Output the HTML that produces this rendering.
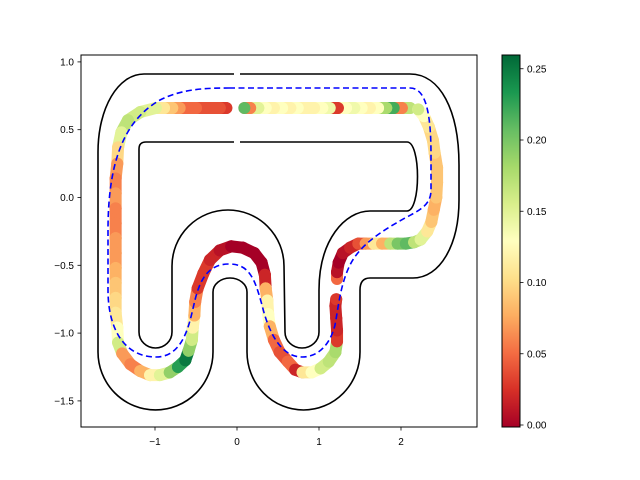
<!DOCTYPE html>
<html><head><meta charset="utf-8"><style>
body{margin:0;background:#fff}
svg{display:block;font-family:"Liberation Sans","DejaVu Sans",sans-serif}
</style></head><body>
<svg id="chart" width="640" height="480" viewBox="0 0 640 480">
<defs>
<linearGradient id="cmap" x1="0" y1="1" x2="0" y2="0">
<stop offset="0" stop-color="#a50026"/><stop offset="0.1" stop-color="#d73027"/><stop offset="0.2" stop-color="#f46d43"/><stop offset="0.3" stop-color="#fdae61"/><stop offset="0.4" stop-color="#fee08b"/><stop offset="0.5" stop-color="#ffffbf"/><stop offset="0.6" stop-color="#d9ef8b"/><stop offset="0.7" stop-color="#a6d96a"/><stop offset="0.8" stop-color="#66bd63"/><stop offset="0.9" stop-color="#1a9850"/><stop offset="1" stop-color="#006837"/>
</linearGradient>
<clipPath id="plotclip"><rect x="81" y="55" width="396" height="372"/></clipPath>
</defs>
<rect x="0" y="0" width="640" height="480" fill="#fff"/>
<g clip-path="url(#plotclip)">
<path fill="none" stroke="#000" stroke-width="1.6" d="M240,74 L410,74 C440,74 459,110 459,165 L459,200 C459,245 440,278 413,278 L370,278 Q360,278 360,290 L360,352 A56.5,58 0 0 1 247,352 L247,292 A17,14 0 0 0 213,292 L213,352 A57.5,58 0 0 1 98,352 L98,152 C98,108 118,74 144,74 L234,74"/>
<path fill="none" stroke="#000" stroke-width="1.6" d="M234,142 L146,142 Q139,142 139,149 L139,332 A16.5,16 0 0 0 172,332 L172,266 A56,56 0 0 1 284,266 L285,332 A17,16 0 0 0 319,332 L319,290 C319,240 345,211 370,211 L407,211 C421,211 421,142 407,142 L240,142"/>
<g id="points"></g>
<path fill="none" stroke="#0000ff" stroke-width="1.6" stroke-dasharray="6,3.5" d="M229,88 L410,88 C425,88 431,110 431,155 L431,190 C431,205 420,210 405,218 C380,232 360,245 350,265 C340,285 338,310 335,325 C330,345 318,357 302,357 C280,357 268,330 262,305 C255,280 250,264 229,264 C208,264 200,280 195,300 C190,320 185,357 156,357 C125,357 108,330 108,290 L108,230 C108,160 125,120 160,100 C180,90 200,88 229,88 Z"/>
</g>
<rect x="81" y="55" width="396" height="372" fill="none" stroke="#000" stroke-width="1"/>
<g id="axes"></g>
<rect x="502" y="55" width="18" height="372" fill="url(#cmap)"/>
<rect x="502" y="55" width="18" height="372" fill="none" stroke="#000" stroke-width="1"/>
<g id="cbaxis"></g>
</svg>
<script>
const xTicks = [-1, 0, 1, 2];
const yTicks = [1.0, 0.5, 0.0, -0.5, -1.0, -1.5];
const yTickLabels = ["1.0", "0.5", "0.0", "\u22120.5", "\u22121.0", "\u22121.5"];
const xTickLabels = ["\u22121", "0", "1", "2"];
const cbTicks = [0, 0.05, 0.10, 0.15, 0.20, 0.25];
const cbTickLabels = ["0.00", "0.05", "0.10", "0.15", "0.20", "0.25"];
const vMin = 0, vMax = 0.26;
const ptX = [2.11,2.01,1.91,1.82,1.72,1.62,1.52,1.43,1.33,1.23,1.13,1.04,0.94,0.84,0.74,0.65,0.55,0.45,0.35,0.26,0.16,0.09,
-0.13,-0.21,-0.30,-0.40,-0.50,-0.60,-0.70,-0.79,-0.89,-0.99,
-1.18,-1.33,-1.41,-1.45,-1.46,-1.48,-1.48,-1.48,-1.48,-1.48,-1.48,-1.48,-1.48,-1.48,-1.48,
-1.46,-1.45,-1.40,-1.30,-1.18,-1.06,-0.94,-0.82,-0.72,-0.63,-0.59,-0.55,-0.54,-0.52,-0.51,-0.48,-0.41,-0.33,-0.21,-0.07,0.07,0.21,0.30,0.34,0.35,0.37,0.38,0.40,0.45,0.52,0.62,0.71,0.80,0.91,1.02,1.12,1.20,1.22,1.22,1.21,1.20,1.21,
1.22,1.22,1.24,1.29,1.38,1.48,1.57,1.67,1.77,1.87,1.96,2.06,2.16,2.24,2.32,2.37,2.40,2.43,2.44,2.44,2.41,2.39,2.34,2.28,2.21];
const ptY = [0.66,0.66,0.66,0.66,0.66,0.66,0.66,0.66,0.66,0.66,0.66,0.66,0.66,0.66,0.66,0.66,0.66,0.66,0.66,0.66,0.66,0.66,
0.66,0.66,0.66,0.66,0.66,0.66,0.66,0.66,0.66,0.66,
0.63,0.57,0.48,0.37,0.25,0.14,0.03,-0.08,-0.19,-0.30,-0.41,-0.52,-0.63,-0.74,-0.85,
-0.96,-1.07,-1.15,-1.23,-1.28,-1.31,-1.31,-1.29,-1.25,-1.20,-1.13,-1.05,-0.96,-0.87,-0.77,-0.67,-0.56,-0.46,-0.39,-0.36,-0.37,-0.41,-0.48,-0.57,-0.67,-0.76,-0.86,-0.95,-1.05,-1.14,-1.21,-1.27,-1.29,-1.29,-1.26,-1.21,-1.14,-1.06,-0.98,-0.89,-0.80,-0.75,
-0.60,-0.55,-0.48,-0.41,-0.37,-0.34,-0.34,-0.34,-0.34,-0.34,-0.34,-0.34,-0.33,-0.31,-0.25,-0.18,-0.09,0.0,0.11,0.22,0.33,0.42,0.52,0.60,0.65];
const ptV = [0.17,0.06,0.22,0.18,0.13,0.12,0.13,0.14,0.13,0.03,0.14,0.13,0.12,0.12,0.13,0.12,0.13,0.12,0.13,0.15,0.06,0.21,
0.03,0.04,0.04,0.04,0.05,0.05,0.07,0.09,0.11,0.15,
0.16,0.17,0.15,0.10,0.07,0.06,0.07,0.06,0.06,0.07,0.07,0.08,0.09,0.10,0.11,
0.13,0.16,0.07,0.06,0.08,0.12,0.15,0.19,0.23,0.25,0.19,0.16,0.12,0.08,0.06,0.03,0.03,0.02,0.01,0.0,0.0,0.0,0.0,0.02,0.08,0.12,0.13,0.08,0.05,0.04,0.05,0.02,0.11,0.13,0.16,0.17,0.18,0.03,0.02,0.02,0.02,0.03,
0.05,0.01,0.0,0.01,0.02,0.04,0.07,0.11,0.08,0.17,0.20,0.21,0.17,0.15,0.11,0.09,0.08,0.09,0.09,0.09,0.10,0.10,0.11,0.13,0.16];

const NS = "http://www.w3.org/2000/svg";
function sx(x){ return 237 + 82 * x; }
function sy(y){ return 197.5 - 135.6 * y; }
function cy(v){ return 425 - (v - vMin) / (vMax - vMin) * 370.5; }
const stops = [[0,[165,0,38]],[0.1,[215,48,39]],[0.2,[244,109,67]],[0.3,[253,174,97]],[0.4,[254,224,139]],[0.5,[255,255,191]],[0.6,[217,239,139]],[0.7,[166,217,106]],[0.8,[102,189,99]],[0.9,[26,152,80]],[1,[0,104,55]]];
function cmap(v){
  let t = Math.max(0, Math.min(1, (v - vMin) / (vMax - vMin)));
  for (let i = 1; i < stops.length; i++) {
    if (t <= stops[i][0]) {
      const a = stops[i-1], b = stops[i], f = (t - a[0]) / (b[0] - a[0]);
      const c = a[1].map((q, k) => Math.round(q + (b[1][k] - q) * f));
      return "rgb(" + c.join(",") + ")";
    }
  }
  return "rgb(0,104,55)";
}
function mk(tag, attrs, parent){
  const e = document.createElementNS(NS, tag);
  for (const k in attrs) e.setAttribute(k, attrs[k]);
  parent.appendChild(e);
  return e;
}
const pg = document.getElementById("points");
for (let i = 0; i < ptX.length; i++) {
  const x0 = sx(ptX[i]), y0 = sy(ptY[i]);
  if (i + 1 < ptX.length) {
    const x1 = sx(ptX[i+1]), y1 = sy(ptY[i+1]);
    const d = Math.hypot(x1 - x0, y1 - y0);
    if (d < 17.5) {
      const s = mk("line", {x1: x0, y1: y0, x2: x1, y2: y1, stroke: cmap(ptV[i]), "stroke-width": 12, "stroke-linecap": "round"}, pg);
      
      
    }
  }
  const c = mk("circle", {cx: x0, cy: y0, r: 6, fill: cmap(ptV[i])}, pg);
  
  
}
const ax = document.getElementById("axes");
xTicks.forEach((t, i) => {
  const l = mk("line", {x1: sx(t), x2: sx(t), y1: 427, y2: 430.5, stroke: "#000", "stroke-width": 0.8}, ax);
  
  
  const tx = mk("text", {x: sx(t), y: 445, "text-anchor": "middle", "font-size": 10, fill: "#000"}, ax);
  tx.textContent = xTickLabels[i];
  
  
});
yTicks.forEach((t, i) => {
  const l = mk("line", {x1: 77.5, x2: 81, y1: sy(t), y2: sy(t), stroke: "#000", "stroke-width": 0.8}, ax);
  
  
  const tx = mk("text", {x: 74, y: sy(t) + 3.5, "text-anchor": "end", "font-size": 10, fill: "#000"}, ax);
  tx.textContent = yTickLabels[i];
  
  
});
const cb = document.getElementById("cbaxis");
cbTicks.forEach((t, i) => {
  const l = mk("line", {x1: 520, x2: 523.5, y1: cy(t), y2: cy(t), stroke: "#000", "stroke-width": 0.8}, cb);
  
  
  const tx = mk("text", {x: 527, y: cy(t) + 3.5, "font-size": 10, fill: "#000"}, cb);
  tx.textContent = cbTickLabels[i];
  
  
});
</script>
</body></html>
